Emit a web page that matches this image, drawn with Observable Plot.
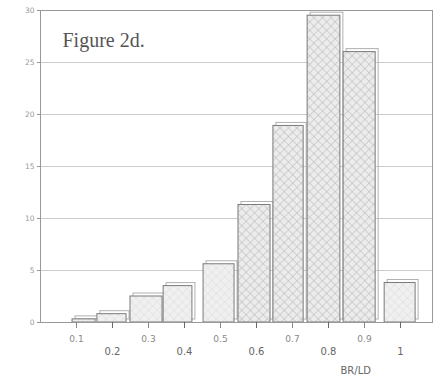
<!DOCTYPE html>
<html><head><meta charset="utf-8">
<script src="https://cdn.jsdelivr.net/npm/d3@7"></script>
<script src="https://cdn.jsdelivr.net/npm/@observablehq/plot@0.6"></script>
<style>body{margin:0;background:#fff} #chart{width:444px;height:382px}</style>
</head><body><div id="chart"></div>
<script>
// BR/LD histogram bins
const binStart = [0.089, 0.158, 0.250, 0.342, 0.453, 0.550, 0.647, 0.742, 0.842, 0.956];
const binEnd   = [0.153, 0.239, 0.339, 0.422, 0.539, 0.639, 0.731, 0.833, 0.931, 1.042];
const counts   = [0.3, 0.8, 2.5, 3.5, 5.6, 11.3, 18.9, 29.5, 26.0, 3.8];
const oddTicks  = [0.1, 0.3, 0.5, 0.7, 0.9];
const evenTicks = [0.2, 0.4, 0.6, 0.8, 1];
const yTicks = [0, 5, 10, 15, 20, 25, 30];
const xLabel = "BR/LD";
const figTitle = "Figure 2d.";

const bars = counts.map((c, i) => ({x1: binStart[i], x2: binEnd[i], y: c}));

const plot = Plot.plot({
  width: 444, height: 382,
  marginLeft: 40, marginRight: 12, marginTop: 10, marginBottom: 60,
  x: {domain: [0, 1.0889]},
  y: {domain: [0, 30]},
  style: {fontFamily: "DejaVu Sans, sans-serif", color: "#777", background: "white"},
  marks: [
    Plot.gridY(yTicks.slice(1, -1), {stroke: "#999", strokeOpacity: 0.5}),
    Plot.rectY(bars, {x1: "x1", x2: "x2", y: "y", dx: 3, dy: -3, fill: "none", stroke: "#b0b0b0", strokeWidth: 1}),
    Plot.rectY(bars, {x1: "x1", x2: "x2", y: "y",
      fill: d => d.y < 6 ? "url(#hatchLight)" : "url(#hatch)", stroke: "#7a7a7a", strokeWidth: 1}),
    Plot.frame({stroke: "#999"}),
    Plot.axisY({ticks: yTicks, tickSize: 3, tickPadding: 3, fontSize: 7.5, color: "#999", label: null}),
    Plot.axisX({ticks: oddTicks, tickSize: 6, tickPadding: 7, fontSize: 9, color: "#888", label: null,
      tickFormat: d => String(d)}),
    Plot.axisX({ticks: evenTicks, tickSize: 6, tickPadding: 19, fontSize: 10, color: "#666", label: null,
      tickFormat: d => String(d)}),
    Plot.text([xLabel], {frameAnchor: "bottom-right", textAnchor: "start", dx: -92, dy: 51,
      fontSize: 10, fill: "#666"}),
    Plot.text([figTitle], {frameAnchor: "top-left", textAnchor: "start", dx: 22, dy: 22,
      fontSize: 20, fill: "#555", fontFamily: "Liberation Serif, DejaVu Serif, serif"})
  ]
});

d3.select(plot).insert("defs", ":first-child").html(`
  <pattern id="hatch" width="6" height="6" patternUnits="userSpaceOnUse" patternTransform="rotate(45)">
    <rect width="6" height="6" fill="#ececec"/>
    <path d="M0 0V6M0 0H6" stroke="#b5b5b5" stroke-width="1"/>
  </pattern>
  <pattern id="hatchLight" width="6" height="6" patternUnits="userSpaceOnUse" patternTransform="rotate(45)">
    <rect width="6" height="6" fill="#f0f0f0"/>
    <path d="M0 0V6M0 0H6" stroke="#dcdcdc" stroke-width="1"/>
  </pattern>`);

document.getElementById("chart").appendChild(plot);
</script>
</body></html>
